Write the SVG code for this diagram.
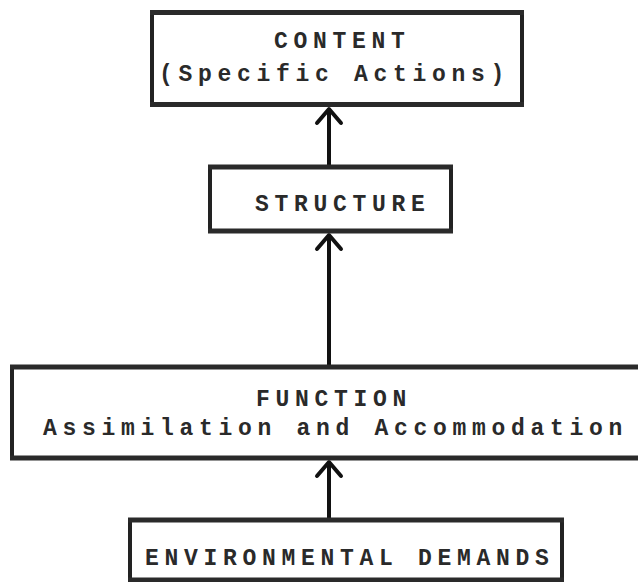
<svg xmlns="http://www.w3.org/2000/svg" width="638" height="582" viewBox="0 0 638 582">
<style>
.box{fill:#fff;stroke:#222;stroke-width:4}
.hl{stroke:#2a2a2a;stroke-width:5;fill:none}
.t{font-family:"Liberation Mono","DejaVu Sans Mono",monospace;font-weight:bold;font-size:23px;letter-spacing:5.7px;fill:#2a2a2a}
.conn{stroke:#111;stroke-width:4;fill:none;marker-end:url(#arr)}
</style>
<defs>
<marker id="arr" markerUnits="userSpaceOnUse" viewBox="-20 -20 40 40" markerWidth="40" markerHeight="40" refX="0" refY="0" orient="auto">
<path d="M-14,-12 L0,0 L-14,12" fill="none" stroke="#111" stroke-width="4" stroke-linejoin="round" stroke-linecap="round"/>
</marker>
</defs>
<rect width="638" height="582" fill="#fff"/>
<g id="connectors">
<line class="conn" x1="329" y1="165" x2="329" y2="109"/>
<line class="conn" x1="329" y1="365" x2="329" y2="235"/>
<line class="conn" x1="329" y1="518" x2="329" y2="462"/>
</g>
<g id="content">
<rect class="box" x="152" y="12.5" width="370" height="92"/>
<line class="hl" x1="150" y1="12.5" x2="524" y2="12.5"/>
<line class="hl" x1="150" y1="104.5" x2="524" y2="104.5"/>
<text class="t" x="274" y="48">CONTENT</text>
<text class="t" x="159" y="81">(Specific Actions)</text>
</g>
<g id="structure">
<rect class="box" x="210" y="167" width="241" height="64"/>
<line class="hl" x1="208" y1="167" x2="453" y2="167"/>
<line class="hl" x1="208" y1="231" x2="453" y2="231"/>
<text class="t" x="255" y="211">STRUCTURE</text>
</g>
<g id="function">
<rect class="box" x="12" y="367" width="640" height="91"/>
<line class="hl" x1="10" y1="367" x2="640" y2="367"/>
<line class="hl" x1="10" y1="458" x2="640" y2="458"/>
<text class="t" x="256" y="406">FUNCTION</text>
<text class="t" x="43" y="435">Assimilation and Accommodation</text>
</g>
<g id="environmental">
<rect class="box" x="130" y="520" width="432" height="60"/>
<line class="hl" x1="128" y1="520" x2="564" y2="520"/>
<line class="hl" x1="128" y1="580" x2="564" y2="580"/>
<text class="t" x="145" y="565">ENVIRONMENTAL DEMANDS</text>
</g>
</svg>
